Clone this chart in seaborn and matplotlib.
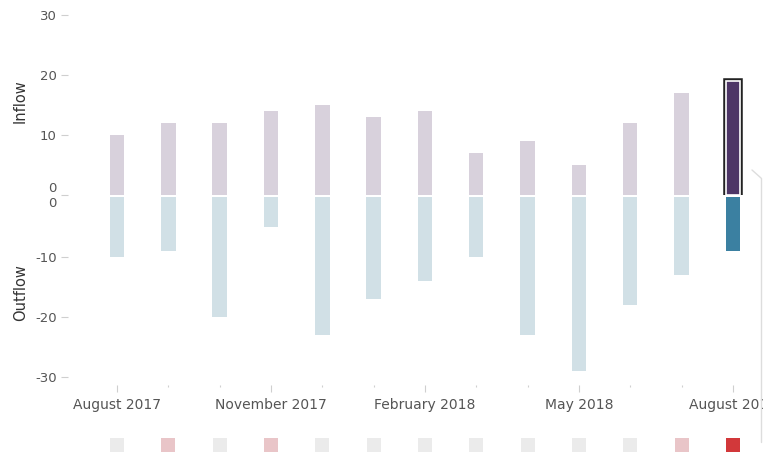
import matplotlib
matplotlib.use("Agg")
import matplotlib.pyplot as plt
import matplotlib.patheffects as pe
from matplotlib.lines import Line2D
import seaborn as sns
import pandas as pd

months = ["Aug 2017", "Sep 2017", "Oct 2017", "Nov 2017", "Dec 2017", "Jan 2018",
          "Feb 2018", "Mar 2018", "Apr 2018", "May 2018", "Jun 2018", "Jul 2018", "Aug 2018"]
inflow = [10, 12, 12, 14, 15, 13, 14, 7, 9, 5, 12, 17, 19]
outflow = [-10, -9, -20, -5, -23, -17, -14, -10, -23, -29, -18, -13, -9]
indicator = [0, 1, 0, 1, 0, 0, 0, 0, 0, 0, 0, 1, 2]
major_labels = {0: "August 2017", 3: "November 2017", 6: "February 2018", 9: "May 2018", 12: "August 2018"}
inflow_ticks = [0, 10, 20, 30]
outflow_ticks = [0, -10, -20, -30]

sns.set_theme(style="white")
plt.rcParams["font.family"] = ["DejaVu Sans"]
plt.rcParams["axes.unicode_minus"] = False

W, H = 763, 454
fig = plt.figure(figsize=(W / 100, H / 100), dpi=100)

def fx(px):
    return px / W

def fy(py):
    return 1 - py / H

left, right = 68, 763
ax_in = fig.add_axes([fx(left), fy(195), fx(right - left), fy(15) - fy(195)])
ax_out = fig.add_axes([fx(left), fy(377), fx(right - left), fy(197) - fy(377)])
ax_sq = fig.add_axes([fx(left), fy(456), fx(right - left), fy(434) - fy(456)])

step = 51.33
x0 = -(117 - left) / step
x1 = (right - 117) / step

df = pd.DataFrame({"month": months, "inflow": inflow, "outflow": outflow, "ind": indicator})

in_cols = ["#d8d1dc"] * (len(months) - 1) + ["#4d3566"]
out_cols = ["#d1e0e6"] * (len(months) - 1) + ["#3b80a1"]

sns.barplot(data=df, x="month", y="inflow", hue="month", palette=in_cols, legend=False,
            width=0.28, saturation=1, linewidth=0, ax=ax_in)
sns.barplot(data=df, x="month", y="outflow", hue="month", palette=out_cols, legend=False,
            width=0.28, saturation=1, linewidth=0, ax=ax_out)

# highlight last inflow bar
last = ax_in.patches[len(months) - 1]
last.set_edgecolor("white")
last.set_linewidth(1.2)
last.set_path_effects([pe.withStroke(linewidth=4, foreground="#222222")])

sq_map = {0: "#ebebeb", 1: "#e9c5c8", 2: "#d2383a"}
sq_cols = [sq_map[v] for v in indicator]
sns.scatterplot(x=list(range(len(months))), y=[0] * len(months), hue=months, palette=sq_cols,
                legend=False, marker="s", s=105, linewidth=0, ax=ax_sq)

for ax in (ax_in, ax_out, ax_sq):
    ax.set_xlim(x0, x1)
    for s in ax.spines.values():
        s.set_visible(False)
    ax.set_xlabel("")
    ax.set_facecolor("none")

tick_color = "#cfcfcf"
lab_color = "#555555"

ax_in.set_ylim(0, 30)
ax_in.set_yticks(inflow_ticks)
ax_in.set_xticks([])
ax_out.set_ylim(-30, 0)
ax_out.set_yticks(outflow_ticks)

for ax in (ax_in, ax_out):
    ax.tick_params(axis="y", left=True, length=5, width=0.8, color=tick_color,
                   labelcolor=lab_color, labelsize=9.5, pad=3)

ax_in.set_ylabel("Inflow", fontsize=10.5, color="#333333")
ax_out.set_ylabel("Outflow", fontsize=10.5, color="#333333")
ax_in.yaxis.set_label_coords(-0.058, 0.52)
ax_out.yaxis.set_label_coords(-0.058, 0.47)

# the two zero labels sit above / below the baseline
ax_in.get_yticklabels()[0].set_va("bottom")
ax_out.get_yticklabels()[0].set_va("top")
# only one tick mark at the shared zero
ax_out.yaxis.get_major_ticks()[0].tick1line.set_visible(False)

# x axis ticks
ax_out.spines["bottom"].set_position(("outward", 6))
ax_out.set_xticks(list(major_labels.keys()))
ax_out.set_xticklabels(list(major_labels.values()))
ax_out.set_xticks([i for i in range(len(months)) if i not in major_labels], minor=True)
ax_out.tick_params(axis="x", which="major", bottom=True, length=5, width=0.8, color=tick_color,
                   labelcolor=lab_color, labelsize=10, pad=4)
ax_out.tick_params(axis="x", which="minor", bottom=True, length=1.5, width=0.8, color=tick_color)

ax_sq.set_ylim(-1, 1)
ax_sq.set_xticks([])
ax_sq.set_yticks([])
ax_sq.set_ylabel("")

# right panel edge
fig.add_artist(Line2D([fx(761), fx(761)], [fy(178), fy(442)], color="#dddddd", lw=1))
fig.add_artist(Line2D([fx(752), fx(761)], [fy(170), fy(178)], color="#dddddd", lw=1))

fig.savefig("out.png", dpi=100)
